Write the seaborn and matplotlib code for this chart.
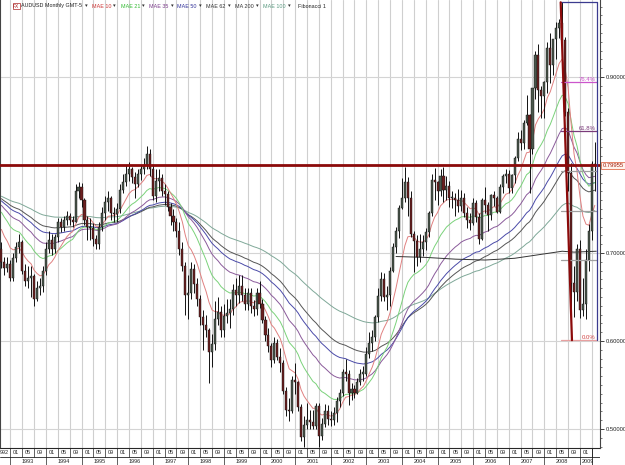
import numpy as np
import pandas as pd
import matplotlib
matplotlib.use("Agg")
import matplotlib.pyplot as plt
import matplotlib.transforms as mtransforms
import seaborn as sns

# monthly AUDUSD candles, first candle = Oct 1992 (month index -3, 1993-01 = 0)
first_index = -3
first_open = 0.705
close = [
    0.690, 0.683, 0.688,  # 1992
    0.672, 0.694, 0.707, 0.712, 0.680, 0.668, 0.672, 0.674, 0.648, 0.660, 0.662, 0.679,  # 1993
    0.705, 0.715, 0.705, 0.718, 0.735, 0.730, 0.738, 0.742, 0.738, 0.735, 0.770, 0.775,  # 1994
    0.760, 0.738, 0.730, 0.728, 0.716, 0.710, 0.730, 0.745, 0.758, 0.762, 0.745, 0.744,  # 1995
    0.750, 0.772, 0.781, 0.790, 0.795, 0.786, 0.778, 0.790, 0.795, 0.800, 0.812, 0.795,  # 1996
    0.765, 0.782, 0.785, 0.770, 0.767, 0.752, 0.742, 0.735, 0.725, 0.705, 0.685, 0.652,  # 1997
    0.655, 0.682, 0.665, 0.648, 0.627, 0.618, 0.612, 0.588, 0.597, 0.625, 0.633, 0.613,  # 1998
    0.628, 0.632, 0.636, 0.658, 0.652, 0.663, 0.652, 0.642, 0.654, 0.640, 0.636, 0.655,  # 1999
    0.642, 0.624, 0.607, 0.594, 0.578, 0.598, 0.582, 0.575, 0.543, 0.522, 0.520, 0.556,  # 2000
    0.553, 0.525, 0.491, 0.504, 0.510, 0.508, 0.503, 0.526, 0.492, 0.506, 0.521, 0.511,  # 2001
    0.510, 0.518, 0.532, 0.541, 0.565, 0.562, 0.541, 0.545, 0.541, 0.553, 0.563, 0.563,  # 2002
    0.585, 0.598, 0.604, 0.627, 0.651, 0.670, 0.650, 0.652, 0.679, 0.707, 0.725, 0.751,  # 2003
    0.763, 0.781, 0.763, 0.722, 0.714, 0.696, 0.705, 0.712, 0.724, 0.746, 0.783, 0.781,  # 2004
    0.770, 0.788, 0.772, 0.776, 0.762, 0.763, 0.760, 0.753, 0.763, 0.745, 0.738, 0.734,  # 2005
    0.757, 0.741, 0.716, 0.760, 0.754, 0.743, 0.766, 0.763, 0.747, 0.775, 0.787, 0.790,  # 2006
    0.774, 0.789, 0.808, 0.830, 0.825, 0.848, 0.857, 0.818, 0.887, 0.925, 0.885, 0.878,  # 2007
    0.894, 0.933, 0.914, 0.943, 0.956, 0.961, 0.942, 0.860, 0.791, 0.666, 0.656, 0.704,  # 2008
    0.635, 0.642, 0.692, 0.725, 0.801, 0.7996,  # 2009
]
high = [
    0.712, 0.695, 0.695,
    0.692, 0.700, 0.712, 0.722, 0.715, 0.687, 0.685, 0.685, 0.676, 0.668, 0.672, 0.685,
    0.712, 0.725, 0.722, 0.722, 0.740, 0.740, 0.742, 0.748, 0.746, 0.742, 0.778, 0.781,
    0.779, 0.762, 0.742, 0.740, 0.734, 0.720, 0.735, 0.752, 0.765, 0.770, 0.765, 0.752,
    0.757, 0.778, 0.790, 0.800, 0.803, 0.798, 0.792, 0.795, 0.800, 0.808, 0.822, 0.818,
    0.800, 0.795, 0.795, 0.790, 0.778, 0.770, 0.757, 0.750, 0.740, 0.735, 0.712, 0.690,
    0.675, 0.690, 0.688, 0.672, 0.652, 0.635, 0.630, 0.615, 0.608, 0.645, 0.650, 0.640,
    0.642, 0.648, 0.648, 0.665, 0.672, 0.675, 0.675, 0.660, 0.660, 0.660, 0.647, 0.660,
    0.668, 0.648, 0.628, 0.615, 0.598, 0.605, 0.602, 0.592, 0.578, 0.548, 0.535, 0.560,
    0.575, 0.555, 0.528, 0.515, 0.530, 0.522, 0.522, 0.530, 0.530, 0.512, 0.528, 0.527,
    0.520, 0.525, 0.536, 0.545, 0.568, 0.580, 0.567, 0.552, 0.550, 0.558, 0.568, 0.572,
    0.593, 0.610, 0.612, 0.630, 0.660, 0.678, 0.677, 0.662, 0.684, 0.711, 0.730, 0.755,
    0.785, 0.798, 0.786, 0.770, 0.725, 0.720, 0.722, 0.720, 0.728, 0.748, 0.790, 0.797,
    0.782, 0.796, 0.798, 0.787, 0.782, 0.771, 0.768, 0.773, 0.772, 0.768, 0.752, 0.745,
    0.762, 0.760, 0.745, 0.762, 0.775, 0.758, 0.767, 0.770, 0.765, 0.778, 0.790, 0.795,
    0.794, 0.790, 0.810, 0.838, 0.840, 0.851, 0.879, 0.858, 0.888, 0.930, 0.937, 0.890,
    0.896, 0.940, 0.950, 0.943, 0.962, 0.966, 0.985, 0.945, 0.865, 0.802, 0.685, 0.710,
    0.715, 0.672, 0.705, 0.733, 0.805, 0.826,
]
low = [
    0.683, 0.675, 0.678,
    0.668, 0.668, 0.690, 0.700, 0.676, 0.662, 0.660, 0.650, 0.640, 0.645, 0.652, 0.656,
    0.675, 0.700, 0.698, 0.700, 0.712, 0.724, 0.725, 0.732, 0.732, 0.730, 0.735, 0.762,
    0.752, 0.732, 0.715, 0.715, 0.708, 0.705, 0.705, 0.725, 0.738, 0.748, 0.738, 0.735,
    0.735, 0.745, 0.768, 0.776, 0.782, 0.780, 0.763, 0.775, 0.783, 0.790, 0.795, 0.788,
    0.760, 0.758, 0.770, 0.765, 0.755, 0.748, 0.732, 0.725, 0.718, 0.698, 0.680, 0.630,
    0.625, 0.648, 0.655, 0.640, 0.618, 0.590, 0.605, 0.552, 0.570, 0.590, 0.618, 0.605,
    0.605, 0.620, 0.615, 0.630, 0.640, 0.643, 0.645, 0.635, 0.635, 0.632, 0.628, 0.630,
    0.638, 0.620, 0.600, 0.588, 0.570, 0.575, 0.578, 0.565, 0.540, 0.515, 0.509, 0.518,
    0.540, 0.520, 0.486, 0.480, 0.500, 0.500, 0.500, 0.500, 0.480, 0.488, 0.502, 0.505,
    0.503, 0.505, 0.508, 0.525, 0.538, 0.555, 0.527, 0.533, 0.535, 0.540, 0.550, 0.555,
    0.560, 0.581, 0.589, 0.600, 0.622, 0.645, 0.646, 0.635, 0.640, 0.678, 0.700, 0.717,
    0.750, 0.758, 0.742, 0.718, 0.678, 0.685, 0.690, 0.697, 0.703, 0.718, 0.742, 0.760,
    0.755, 0.765, 0.758, 0.760, 0.752, 0.751, 0.742, 0.747, 0.748, 0.741, 0.728, 0.726,
    0.732, 0.735, 0.710, 0.715, 0.745, 0.725, 0.738, 0.753, 0.745, 0.745, 0.768, 0.780,
    0.768, 0.768, 0.780, 0.805, 0.817, 0.818, 0.845, 0.768, 0.813, 0.875, 0.860, 0.853,
    0.853, 0.882, 0.893, 0.902, 0.920, 0.944, 0.928, 0.856, 0.770, 0.601, 0.627, 0.645,
    0.626, 0.628, 0.625, 0.680, 0.715, 0.770,
]

# exponential averages: period, start value (read at left edge), colour
ema_periods = [100, 62, 50, 35, 21, 10]
ema_start = [0.766, 0.764, 0.762, 0.758, 0.752, 0.735]
ema_colors = ["#7fa898", "#555555", "#4a4aa8", "#8a5a9a", "#7ad27a", "#e08080"]

# MA 200 (month index, value)
ma200_month = [130, 140, 150, 160, 170, 180, 186, 190, 197.5]
ma200_value = [0.696, 0.695, 0.693, 0.692, 0.694, 0.699, 0.702, 0.701, 0.702]

# Fibonacci 1 drawn on the 2008 swing
fib_high_month, fib_high = 186, 0.9849
fib_low_month, fib_low = 189, 0.6009
fib_levels = [0.0, 0.236, 0.382, 0.5, 0.618, 0.764, 1.0]
fib_colors = ["#e8a0a0", "#a0a0a0", "#a0a0a0", "#a0a0a0", "#7a3a7a", "#cc55cc", "#3b3b8f"]

last_price = 0.79955

n = len(close)
months = np.arange(first_index, first_index + n)
opens = [first_open] + close[:-1]
df = pd.DataFrame({"m": months, "open": opens, "high": high, "low": low, "close": close})

sns.set_style("white")
plt.rcParams["font.family"] = ["Liberation Sans", "DejaVu Sans"]

W, H = 625, 465
fig = plt.figure(figsize=(W / 100, H / 100), dpi=100)
ax = fig.add_axes([0, 17 / H, 600 / W, 448 / H])
axb = fig.add_axes([0, 0, 600 / W, 17 / H])

x0, x1 = -3.47, 198.75
ax.set_xlim(x0, x1)
ax.set_ylim(0.4784, 0.9875)

# grid
for m in range(-4, 200, 4):
    ax.axvline(m, color="#cfcfcf", lw=0.8, zorder=0)
for p in [0.5, 0.6, 0.7, 0.8, 0.9]:
    ax.axhline(p, color="#d4d4d4", lw=0.8, zorder=0)

# moving averages
for per, start, col in zip(ema_periods, ema_start, ema_colors):
    a = 2.0 / (per + 1)
    vals = []
    e = start
    for c in df["close"]:
        e = e + a * (c - e)
        vals.append(e)
    sns.lineplot(x=df["m"], y=vals, ax=ax, color=col, lw=0.7, zorder=2)
sns.lineplot(x=ma200_month, y=ma200_value, ax=ax, color="#333333", lw=0.7, zorder=2)
ax.set_xlabel("")
ax.set_ylabel("")

# candles
up = df["close"] >= df["open"]
ax.vlines(df["m"], df["low"], df["high"], color="#111111", lw=0.7, zorder=3)
body = (df["close"] - df["open"]).abs().clip(lower=0.0015)
bottom = df[["open", "close"]].min(axis=1)
ax.bar(df["m"][up], body[up], bottom=bottom[up], width=0.7, color="#4a574c",
       edgecolor="#111111", lw=0.3, zorder=4)
ax.bar(df["m"][~up], body[~up], bottom=bottom[~up], width=0.7, color="#6b2020",
       edgecolor="#111111", lw=0.3, zorder=4)

# horizontal price line
ax.axhline(last_price, color="#8b0a0a", lw=2.0, zorder=5)

# fibonacci
fx1 = 197.6
rng = fib_high - fib_low
for lev, col in zip(fib_levels, fib_colors):
    ax.plot([fib_high_month - 0.5, fx1], [fib_low + lev * rng] * 2, color=col, lw=0.9, zorder=6)
ax.plot([fx1, fx1], [fib_low, fib_high], color="#3b3b8f", lw=0.9, zorder=6)
ax.plot([fib_high_month - 0.5, fib_low_month + 0.3], [fib_high, fib_low], color="#8b0a0a", lw=1.6, zorder=6)
ax.text(fx1 - 0.3, fib_low + 0.764 * rng, "76.4%", color="#cc55cc", fontsize=4.3,
        ha="right", va="bottom", zorder=7)
ax.text(fx1 - 0.3, fib_low + 0.618 * rng, "61.8%", color="#7a3a7a", fontsize=4.3,
        ha="right", va="bottom", zorder=7)
ax.text(fx1 - 0.3, fib_low, "0.0%", color="#d04040", fontsize=4.3,
        ha="right", va="bottom", zorder=7)

# right price axis
ax.yaxis.tick_right()
ticks = [0.5, 0.6, 0.7, 0.8, 0.9]
ax.set_yticks(ticks)
ax.set_yticks(np.arange(0.48, 0.99, 0.01), minor=True)
ax.set_yticklabels(["" if v == 0.8 else "%.5f" % v for v in ticks])
ax.tick_params(axis="y", which="major", length=3, width=0.6, labelsize=4.2, pad=0.8, colors="#222222")
ax.tick_params(axis="y", which="minor", length=1.5, width=0.5, colors="#444444")
ax.tick_params(axis="x", bottom=False, labelbottom=False)
for s in ax.spines.values():
    s.set_color("#444444")
    s.set_linewidth(0.8)
ax.spines["top"].set_visible(False)

tr = mtransforms.blended_transform_factory(ax.transAxes, ax.transData)
ax.text(1.004, last_price, "%.5f" % last_price, transform=tr, fontsize=4.2, color="#a02010",
        va="center", ha="left",
        bbox=dict(boxstyle="square,pad=0.2", fc="#fff3ec", ec="#e07050", lw=0.6), zorder=8)

# bottom date scale
axb.set_xlim(x0, x1)
axb.set_ylim(0, 17)
axb.axis("off")
axb.axhline(8.5, color="#222222", lw=0.6)
axb.axhline(16.8, color="#222222", lw=0.6)
for m in range(-4, 198, 4):
    axb.plot([m, m], [8.5, 17], color="#222222", lw=0.5)
    if 0 <= m and m + 4 <= x1:
        axb.text(m + 2, 12.7, "%02d" % (m % 12 + 1), fontsize=4.0, ha="center", va="center")
for yr in range(1993, 2010):
    m = (yr - 1993) * 12
    axb.plot([m, m], [0, 8.5], color="#222222", lw=0.5)
    centre = m + 2.5 if yr == 2009 else m + 6
    axb.text(centre, 4.0, str(yr), fontsize=4.0, ha="center", va="center")
axb.text(-3.4, 12.7, "992", fontsize=4.0, ha="left", va="center")
axb.plot([196, 196], [0, 17], color="#222222", lw=0.6)

# legend strip
legend = [("AUDUSD Monthly GMT-5", "#222222", 21), ("MAE 10", "#cc3333", 92),
          ("MAE 21", "#33bb33", 121), ("MAE 35", "#7a3a8a", 149), ("MAE 50", "#333399", 177),
          ("MAE 62", "#333333", 206), ("MA 200", "#333333", 235), ("MAE 100", "#5a9a80", 263),
          ("Fibonacci 1", "#222222", 298)]
arrows = [85, 113, 142, 171, 199, 228, 256, 288]
ty = 1 - 6 / H
fig.text(13 / W, ty, "FX", fontsize=3.5, color="#aa2222", va="center",
         bbox=dict(boxstyle="square,pad=0.1", fc="white", ec="#aa2222", lw=0.5))
for lab, col, px in legend:
    fig.text(px / W, ty, lab, fontsize=3.9, color=col, va="center")
for px in arrows:
    fig.text(px / W, ty, "\u25be", fontsize=3.9, color="#333333", va="center",
             family=["DejaVu Sans"])

fig.savefig("out.png", dpi=100)
